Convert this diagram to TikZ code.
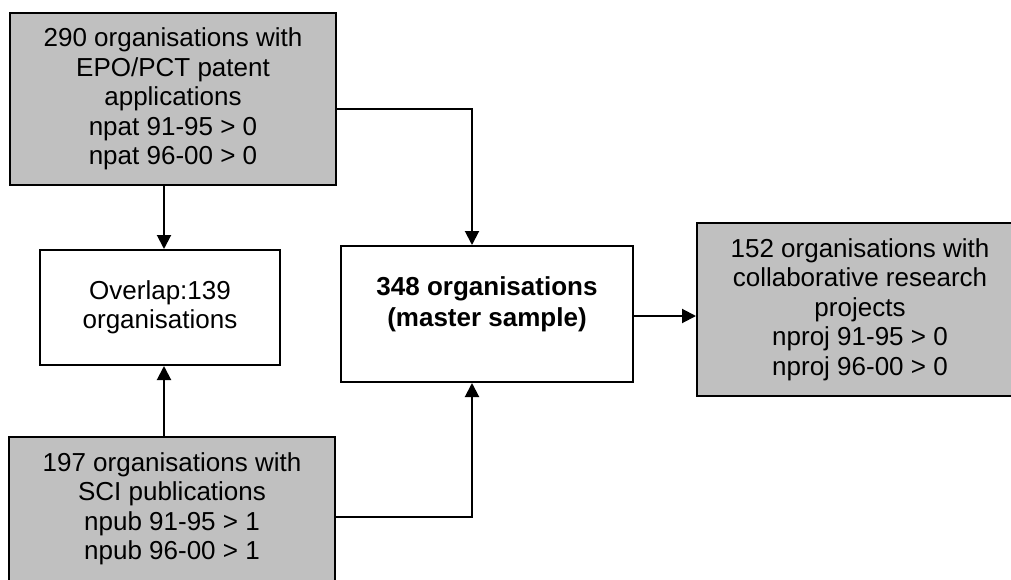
\documentclass[tikz,border=0pt]{standalone}
\usepackage{fontspec}
\setmainfont{Liberation Sans}
\usetikzlibrary{arrows.meta}
\definecolor{boxgray}{HTML}{C0C0C0}
\tikzset{
  box/.style={draw=black, line width=2pt, rectangle, inner sep=0pt, align=center,
    font=\fontsize{26}{29.5}\selectfont},
  graybox/.style={box, fill=boxgray},
  whitebox/.style={box, fill=white},
  conn/.style={draw=black, line width=2pt},
  arr/.style={conn, -{Triangle[length=14pt,width=14pt]}},
}
\begin{document}
\begin{tikzpicture}[x=1pt,y=-1pt]
\useasboundingbox (0,0) rectangle (1011,580);
\clip (0,0) rectangle (1011,580);
\fill[white] (0,0) rectangle (1011,580);

\node[graybox, minimum width=326pt, minimum height=172pt] (top) at (173,99)
  {290 organisations with\\EPO/PCT patent\\applications\\npat 91-95 > 0\\npat 96-00 > 0};
\node[whitebox, minimum width=240pt, minimum height=115pt] (ovl) at (160,307.5)
  {Overlap:139\\organisations};
\node[graybox, minimum width=326pt, minimum height=144pt] (bot) at (172,509)
  {197 organisations with\\SCI publications\\npub 91-95 > 1\\npub 96-00 > 1};
\node[whitebox, minimum width=292pt, minimum height=136pt] (master) at (487,314) {};
\node[box, draw=none, font=\fontsize{26}{31}\selectfont\bfseries] (mastertext) at ([yshift=10pt]master.center)
  {348 organisations\\(master sample)};
\node[graybox, minimum width=326pt, minimum height=173pt] (right) at (860,309.5)
  {152 organisations with\\collaborative research\\projects\\nproj 91-95 > 0\\nproj 96-00 > 0};

\coordinate (cx) at (164,0);
\coordinate (j1) at (472,109);
\coordinate (j2) at (472,517);

\draw[arr] (cx |- top.south) -- (cx |- ovl.north);
\draw[arr] (cx |- bot.north) -- (cx |- ovl.south);
\draw[arr] (top.east |- j1) -- (j1) -- (j1 |- master.north);
\draw[arr] (bot.east |- j2) -- (j2) -- (j2 |- master.south);
\draw[arr] ([yshift=-2pt]master.east) -- ([yshift=-2pt]master.east -| right.west);
\end{tikzpicture}
\end{document}
